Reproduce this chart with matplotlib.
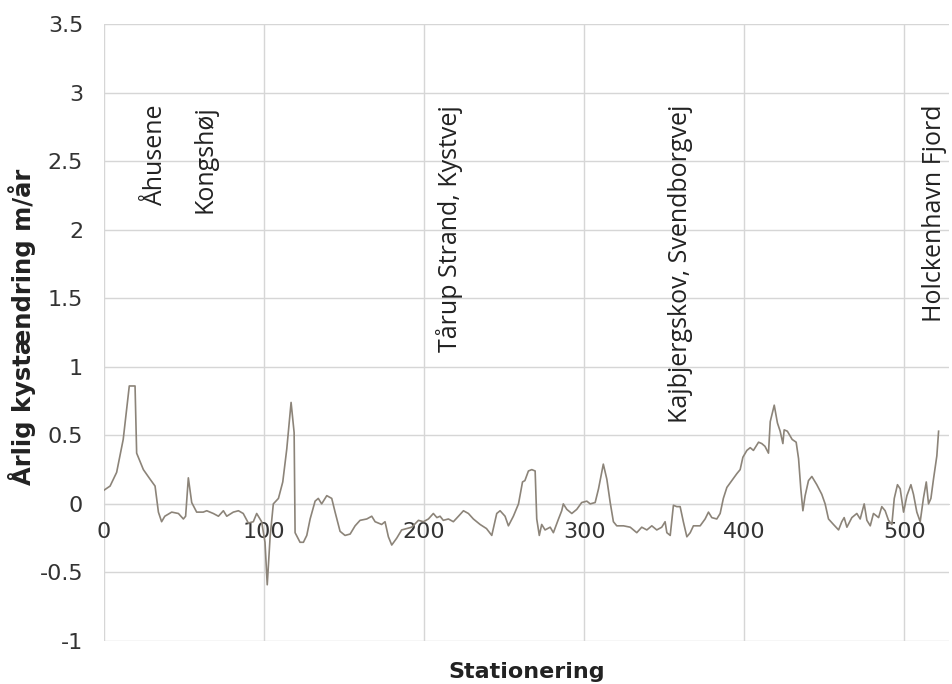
import matplotlib
matplotlib.use("Agg")
import matplotlib.pyplot as plt

# stationering (m) and annual coastal change (m/year)
stations = [0, 3.8, 7.9, 12, 15.8, 19.4, 20.4, 24.6, 28.8, 31.9, 34, 36, 38, 42.3, 46.5,
            49.6, 51, 52.7, 54.8, 57.9, 62, 64.2, 68.3, 71.5, 74.6, 76.7, 80.8, 84, 87, 90.2,
            93.3, 95.4, 98.5, 100.6, 102, 103.8, 105.8, 109, 111.7, 114.2, 116.9, 118.8, 119.4,
            122.5, 124.6, 126.7, 128.8, 131.9, 133.9, 136, 139.2, 142.3, 144.4, 147.5, 150.6,
            153.8, 156.9, 160, 164.2, 167.3, 169.4, 173.5, 175.6, 177.7, 179.8, 182.9, 186,
            189.2, 192.3, 196.5, 199.6, 202.7, 205.8, 208, 210, 212, 215.2, 218.3, 221.5, 224.6,
            227.7, 230.8, 235, 239, 242.3, 245.4, 247.5, 250.6, 252.7, 255.8, 259, 261.5, 263,
            265.2, 267.3, 269.4, 270.4, 272, 273.5, 275.6, 278.8, 280.8, 284, 286, 287, 289.2,
            292.3, 295.4, 298.5, 301.7, 303.8, 306.9, 309, 312, 314.2, 316.3, 318.3, 320.4,
            324.6, 328.8, 332.9, 336, 339.2, 342.3, 345.4, 348.5, 350.6, 351.7, 353.8, 355.8,
            357.9, 360, 362, 364.2, 366.3, 368.3, 372.5, 375.6, 377.7, 379.8, 382.9, 385, 387,
            389.2, 392.3, 395.4, 397.5, 399.2, 401.7, 403.8, 405.8, 409, 411, 413, 415.2, 416.3,
            418.8, 420.8, 422.5, 424.2, 425, 427, 430, 432.5, 434, 435.4, 436.7, 438.1, 440.2,
            442.3, 445.4, 448.5, 450.6, 452.7, 455.8, 459, 461, 462.5, 464.2, 467.3, 470.4,
            472.5, 475, 476.7, 478.8, 480.8, 484, 486, 488.1, 490.2, 492.3, 493.8, 495.8, 497.5,
            499.6, 501.7, 504.2, 505.8, 507.9, 510, 512, 513.8, 515.2, 516.7, 518.3, 520.4, 521.5]
change = [0.10, 0.13, 0.23, 0.47, 0.86, 0.86, 0.37, 0.25, 0.18, 0.13, -0.06, -0.13, -0.09, -0.06,
          -0.07, -0.11, -0.09, 0.19, 0.01, -0.06, -0.06, -0.05, -0.07, -0.09, -0.05, -0.09, -0.06,
          -0.05, -0.07, -0.14, -0.13, -0.07, -0.13, -0.28, -0.59, -0.24, 0.0, 0.04, 0.16, 0.40,
          0.74, 0.52, -0.21, -0.28, -0.28, -0.23, -0.11, 0.02, 0.04, 0.0, 0.06, 0.04, -0.06,
          -0.20, -0.23, -0.22, -0.16, -0.12, -0.11, -0.09, -0.13, -0.15, -0.13, -0.24, -0.30,
          -0.25, -0.19, -0.18, -0.17, -0.12, -0.13, -0.11, -0.07, -0.10, -0.09, -0.12, -0.11,
          -0.13, -0.09, -0.05, -0.07, -0.11, -0.15, -0.18, -0.23, -0.07, -0.05, -0.09, -0.16,
          -0.09, 0.0, 0.16, 0.17, 0.24, 0.25, 0.24, -0.11, -0.23, -0.15, -0.19, -0.17, -0.21,
          -0.11, -0.05, 0.0, -0.04, -0.07, -0.04, 0.01, 0.02, 0.0, 0.01, 0.11, 0.29, 0.18, 0.01,
          -0.13, -0.16, -0.16, -0.17, -0.21, -0.17, -0.19, -0.16, -0.19, -0.17, -0.13, -0.21,
          -0.23, -0.01, -0.02, -0.02, -0.13, -0.24, -0.21, -0.16, -0.16, -0.11, -0.06, -0.10,
          -0.11, -0.07, 0.04, 0.12, 0.17, 0.22, 0.25, 0.34, 0.39, 0.41, 0.39, 0.45, 0.44, 0.42,
          0.37, 0.60, 0.72, 0.59, 0.53, 0.44, 0.54, 0.53, 0.47, 0.45, 0.33, 0.11, -0.05, 0.06,
          0.17, 0.20, 0.14, 0.07, 0.0, -0.11, -0.15, -0.19, -0.13, -0.10, -0.17, -0.10, -0.07,
          -0.11, 0.0, -0.12, -0.16, -0.07, -0.10, -0.02, -0.05, -0.12, -0.15, 0.04, 0.14, 0.11,
          -0.06, 0.06, 0.14, 0.07, -0.06, -0.13, 0.04, 0.16, 0.0, 0.04, 0.18, 0.35, 0.53]

# place names along the coast
places = ["Åhusene", "Kongshøj", "Tårup Strand, Kystvej", "Kajbjergskov, Svendborgvej",
          "Holckenhavn Fjord"]
place_x = [32, 63, 216, 360, 519]

x_ticks = [0, 100, 200, 300, 400, 500]
y_ticks = [-1, -0.5, 0, 0.5, 1, 1.5, 2, 2.5, 3, 3.5]
y_labels = ["-1", "-0.5", "0", "0.5", "1", "1.5", "2", "2.5", "3", "3.5"]

GRID = "#d6d6d6"
TXT = "#333333"

fig = plt.figure(figsize=(9.52, 6.84), dpi=100)
ax = fig.add_axes([104 / 952, 43 / 684, 845 / 952, 617 / 684])

ax.plot(stations, change, color="#8c8479", lw=1.2, zorder=3)

ax.set_xlim(0, 528)
ax.set_ylim(-1, 3.5)
ax.set_xticks(x_ticks)
ax.set_yticks(y_ticks)
ax.set_yticklabels(y_labels)
ax.grid(True, color=GRID, lw=1)
ax.set_axisbelow(True)

for side in ("top", "right", "left"):
    ax.spines[side].set_visible(False)
ax.spines["bottom"].set_position(("data", 0))
ax.spines["bottom"].set_color(GRID)

ax.tick_params(axis="both", length=0, labelsize=16, labelcolor=TXT)
ax.tick_params(axis="x", pad=13)
ax.tick_params(axis="y", pad=15)

for name, xp in zip(places, place_x):
    ax.text(xp, 2.91, name, rotation=90, ha="center", va="top", fontsize=18,
            family="Open Sans", color="#222222")

fig.text(22 / 952, 1 - 327 / 684, "Årlig kystændring m/år", rotation=90, ha="center",
         va="center", fontsize=17.5, fontweight="bold", color="#222222")
fig.text(527 / 952, 1 - 672 / 684, "Stationering", ha="center", va="center",
         fontsize=16, fontweight="bold", color="#222222")

fig.savefig("out.png", dpi=100)
